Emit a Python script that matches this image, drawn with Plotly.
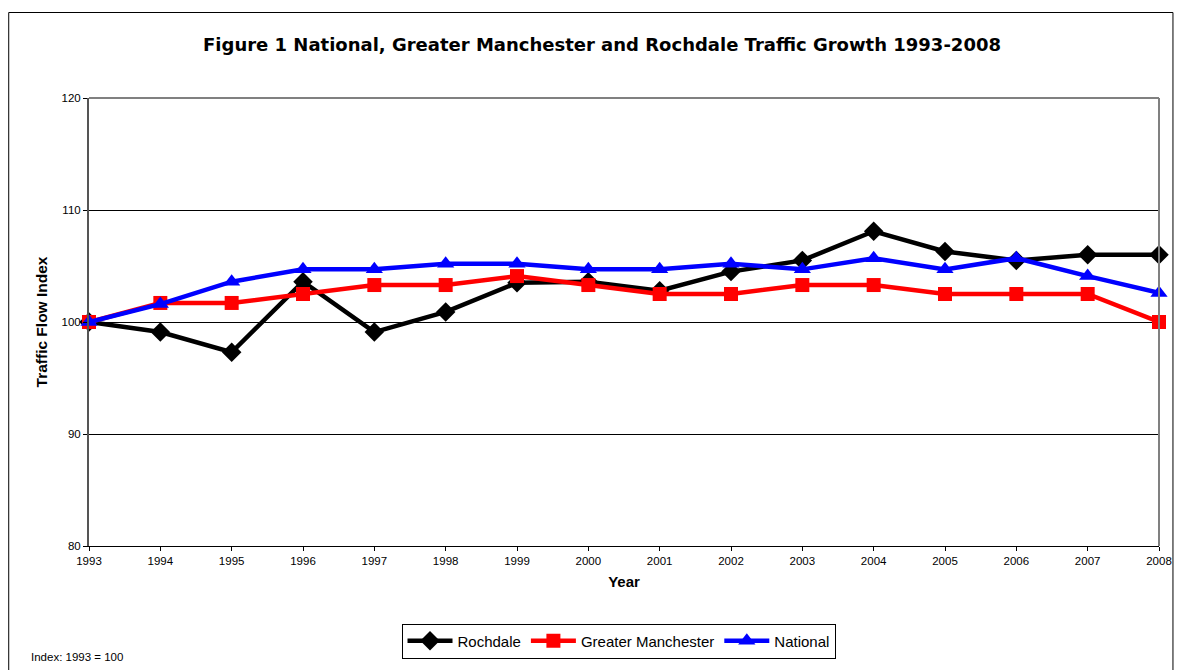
import plotly.graph_objects as go

years = list(range(1993, 2009))
rochdale = [100, 99.1, 97.3, 103.6, 99.1, 100.9, 103.5, 103.6, 102.8, 104.5, 105.5, 108.1, 106.3, 105.5, 106.0, 106.0]
greater_manchester = [100, 101.7, 101.7, 102.5, 103.3, 103.3, 104.1, 103.3, 102.5, 102.5, 103.3, 103.3, 102.5, 102.5, 102.5, 100.0]
national = [100, 101.6, 103.6, 104.7, 104.7, 105.2, 105.2, 104.7, 104.7, 105.2, 104.7, 105.7, 104.7, 105.7, 104.1, 102.6]

series = [
    ("Rochdale", rochdale, "#000000", "diamond", 15),
    ("Greater Manchester", greater_manchester, "#ff0000", "square", 14),
    ("National", national, "#0000ff", "triangle-up", 15),
]

fig = go.Figure()
for name, vals, col, sym, sz in series:
    fig.add_trace(go.Scatter(
        x=years, y=vals, name=name, mode="lines+markers",
        line=dict(color=col, width=4.5),
        marker=dict(symbol=sym, size=sz, color=col),
        cliponaxis=False,
    ))

# page body has an 8px margin; work in page coordinates and convert
OFF = 8
W, H = 1184 - OFF, 670 - OFF
PL, PR, PT, PB = 89, 1162, 98, 546  # plot area in page px
L, T = PL - OFF, PT - OFF
R = W - (PR - OFF)
B = H - (PB - OFF)
pw = PR - PL
ph = PB - PT

def px(x):
    return (x - PL) / pw

def py(y):
    return (PB - y) / ph

fig.update_layout(
    width=W, height=H,
    margin=dict(l=L, r=R, t=T, b=B),
    paper_bgcolor="white", plot_bgcolor="white",
    font=dict(family="Liberation Sans, Arial, sans-serif", color="black"),
    title=dict(text="<b>Figure 1 National, Greater Manchester and Rochdale Traffic Growth 1993-2008</b>",
               xref="container", x=(602 - OFF) / W, xanchor="center",
               yref="container", y=1 - (45 - OFF) / H, yanchor="middle",
               font=dict(size=18, family="DejaVu Sans, sans-serif")),
    xaxis=dict(range=[1993, 2008], tickmode="array", tickvals=years,
               ticktext=[str(y) for y in years], showgrid=False,
               showline=True, linecolor="#000000", linewidth=1,
               ticks="outside", ticklen=4, tickcolor="#000000",
               tickfont=dict(size=11.5), zeroline=False,
               title=dict(text="<b>Year</b>", font=dict(size=15), standoff=10)),
    yaxis=dict(range=[80, 120], tickvals=[80, 90, 100, 110, 120],
               showgrid=True, gridcolor="#000000", gridwidth=1,
               showline=True, linecolor="#555555", linewidth=2,
               ticks="outside", ticklen=4, tickcolor="#000000",
               tickfont=dict(size=11.5), zeroline=False,
               title=dict(text="<b>Traffic Flow Index</b>", font=dict(size=15.5), standoff=10)),
    legend=dict(orientation="h", x=px(620), xanchor="center", y=py(641), yanchor="middle",
                bordercolor="#000000", borderwidth=1, font=dict(size=15),
                itemwidth=45, tracegroupgap=0, bgcolor="white"),
    showlegend=True,
)

# plot area border (top/right grey)
fig.add_shape(type="line", xref="paper", yref="paper", x0=0, x1=1, y0=1, y1=1,
              line=dict(color="#808080", width=2))
fig.add_shape(type="line", xref="paper", yref="paper", x0=1, x1=1, y0=0, y1=1,
              line=dict(color="#808080", width=2))
# outer chart border
fig.add_shape(type="rect", xref="paper", yref="paper",
              x0=px(8.5), x1=px(1176), y0=py(700), y1=py(12.5),
              line=dict(color="#000000", width=1), fillcolor="rgba(0,0,0,0)", layer="below")

fig.add_annotation(text="Index: 1993 = 100", xref="paper", yref="paper",
                   x=px(29), y=py(657), xanchor="left", yanchor="middle",
                   showarrow=False, font=dict(size=11.5))

fig.write_html("out.html")
